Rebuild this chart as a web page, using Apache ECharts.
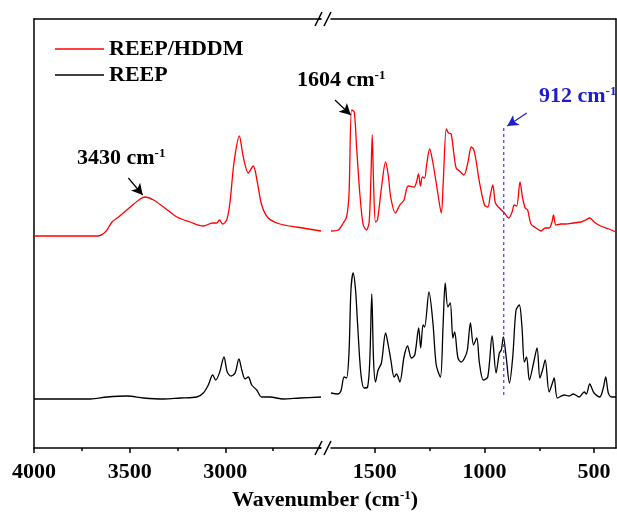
<!DOCTYPE html>
<html>
<head>
<meta charset="utf-8">
<title>FTIR REEP / REEP-HDDM</title>
<script src="https://cdn.jsdelivr.net/npm/echarts@6.0.0/dist/echarts.min.js"></script>
<style>
	html, body { margin: 0; padding: 0; background: #ffffff; }
	#chart { width: 617px; height: 519px; }
</style>
</head>
<body>
<div id="chart"></div>
<script>
// 高波数段 (4000-2500) 与低波数段 (1700-400)，断轴
const highTicks = [4000, 3500, 3000];
const highMinorTicks = [3750, 3250, 2750];
const lowTicks = [1500, 1000, 500];
const lowMinorTicks = [1250, 750];

// REEP/HDDM (红线)
const redHighWn = [4000, 3800, 3670, 3627, 3592, 3558, 3497, 3445, 3419, 3375, 3323, 3253, 3184, 3115, 3066, 3045, 3031, 3014, 2993, 2976, 2955, 2927, 2906, 2880, 2854, 2833, 2810, 2776, 2715, 2628, 2500];
const redHigh = [212, 212, 212, 216, 226, 231, 241, 249, 251, 248, 241, 231, 226, 222, 225, 225, 228, 224, 228, 245, 285, 312, 291, 275, 282, 266, 243, 230, 224, 221, 217];
const redLowWn = [1700, 1667, 1644, 1629, 1618, 1606, 1594, 1583, 1568, 1553, 1538, 1526, 1518, 1512, 1506, 1497, 1488, 1470, 1451, 1439, 1427, 1406, 1386, 1367, 1348, 1321, 1310, 1301, 1292, 1283, 1273, 1264, 1250, 1235, 1215, 1197, 1188, 1174, 1164, 1152, 1140, 1129, 1114, 1094, 1076, 1060, 1050, 1041, 1023, 1000, 985, 973, 962, 950, 932, 909, 889, 874, 864, 853, 838, 826, 814, 803, 788, 765, 742, 723, 705, 692, 685, 674, 651, 629, 595, 560, 538, 520, 500, 470, 432, 400];
const redLow = [217, 218, 225, 231, 253, 338, 336, 300, 253, 223, 218, 226, 270, 313, 266, 226, 228, 260, 286, 273, 250, 235, 243, 248, 262, 261, 266, 274, 262, 271, 270, 283, 299, 285, 258, 235, 266, 319, 315, 314, 295, 280, 277, 273, 285, 301, 299, 291, 266, 243, 241, 253, 263, 245, 240, 235, 230, 236, 243, 242, 266, 250, 240, 238, 224, 220, 217, 220, 220, 226, 233, 223, 224, 224, 225, 226, 228, 230, 226, 222, 219, 216];

// REEP (黑线)
const blackHighWn = [4000, 3845, 3705, 3618, 3514, 3428, 3323, 3236, 3149, 3115, 3089, 3066, 3050, 3031, 3007, 2990, 2970, 2949, 2929, 2914, 2897, 2880, 2862, 2836, 2810, 2767, 2698, 2611, 2500];
const blackHigh = [49, 49, 49, 51, 52, 50, 49, 50, 51, 55, 63, 73, 68, 75, 91, 76, 72, 75, 89, 78, 69, 71, 63, 58, 51, 51, 49, 50, 51];
const blackLowWn = [1700, 1670, 1655, 1640, 1629, 1618, 1609, 1599, 1588, 1579, 1564, 1549, 1533, 1523, 1514, 1506, 1497, 1485, 1470, 1451, 1439, 1427, 1412, 1401, 1386, 1367, 1351, 1333, 1318, 1300, 1291, 1280, 1273, 1253, 1235, 1220, 1201, 1189, 1179, 1167, 1156, 1144, 1136, 1121, 1106, 1091, 1078, 1064, 1050, 1035, 1023, 1005, 985, 965, 947, 932, 923, 914, 901, 886, 871, 856, 841, 829, 818, 808, 795, 776, 760, 747, 735, 723, 705, 690, 682, 667, 636, 614, 595, 568, 545, 535, 520, 500, 474, 458, 447, 435, 420, 400];
const blackLow = [55, 54, 57, 71, 70, 95, 158, 175, 158, 125, 75, 60, 61, 88, 154, 88, 66, 78, 85, 115, 103, 88, 71, 74, 66, 91, 102, 90, 93, 120, 100, 123, 121, 156, 125, 83, 71, 121, 165, 141, 145, 110, 116, 90, 86, 90, 98, 125, 103, 110, 85, 68, 71, 112, 75, 95, 98, 111, 91, 65, 91, 138, 143, 121, 86, 91, 68, 85, 100, 70, 78, 88, 56, 65, 70, 50, 53, 52, 54, 51, 56, 54, 64, 55, 51, 60, 71, 55, 51, 51];

// 标注
const peak3430 = [[3507, 270], [3432, 253]];
const peak1604 = [[1682, 348], [1610, 333]];
const peak912Arrow = [[807, 335], [896, 322]];
const line912 = [[912, 53], [912, 323]];

function zip(xs, ys) {
	return xs.map(function (x, i) { return [x, ys[i]]; });
}

const font = '"Liberation Serif", "Times New Roman", serif';
const axisColor = '#000000';

function bottomAxis(gridIndex, min, max, ticks) {
	return {
		type: 'value', gridIndex: gridIndex, position: 'bottom', min: min, max: max, inverse: true,
		splitLine: { show: false },
		axisLine: { show: true, onZero: false, lineStyle: { color: axisColor, width: 1.5 } },
		axisTick: { show: true, length: 5, customValues: ticks, lineStyle: { color: axisColor, width: 1.5 } },
		axisLabel: {
			show: true, customValues: ticks, margin: 13,
			formatter: function (v) { return String(v); },
			fontFamily: font, fontWeight: 'bold', fontSize: 22, color: '#000'
		}
	};
}

function minorAxis(gridIndex, min, max, ticks) {
	return {
		type: 'value', gridIndex: gridIndex, position: 'bottom', min: min, max: max, inverse: true,
		splitLine: { show: false },
		axisLine: { show: false, onZero: false },
		axisTick: { show: true, length: 3, customValues: ticks, lineStyle: { color: axisColor, width: 1.5 } },
		axisLabel: { show: false }
	};
}

function topAxis(gridIndex, min, max) {
	return {
		type: 'value', gridIndex: gridIndex, position: 'top', min: min, max: max, inverse: true,
		splitLine: { show: false },
		axisLine: { show: true, onZero: false, lineStyle: { color: axisColor, width: 1.5 } },
		axisTick: { show: false },
		axisLabel: { show: false }
	};
}

function sideAxis(gridIndex, position) {
	return {
		type: 'value', gridIndex: gridIndex, position: position, min: 0, max: 429,
		splitLine: { show: false },
		axisLine: { show: true, onZero: false, lineStyle: { color: axisColor, width: 1.5 } },
		axisTick: { show: false },
		axisLabel: { show: false }
	};
}

function arrowLine(pts, color, size) {
	return {
		silent: true,
		symbol: ['none', 'arrow'],
		symbolSize: size,
		label: { show: false },
		lineStyle: { color: color, width: 1.2, type: 'solid' },
		data: [[{ coord: pts[0] }, { coord: pts[1] }]]
	};
}

function label(x, y, main, color) {
	return {
		type: 'text', x: x, y: y,
		style: {
			text: '{a|' + main + '}{b|-1}',
			fill: color,
			verticalAlign: 'middle',
			rich: {
				a: { fontFamily: font, fontWeight: 'bold', fontSize: 22, fill: color, lineHeight: 22 },
				b: { fontFamily: font, fontWeight: 'bold', fontSize: 13, fill: color, verticalAlign: 'top', lineHeight: 22, padding: [0, 0, 9, 0] }
			}
		}
	};
}

function breakMark(y) {
	return [
		{ type: 'line', shape: { x1: 315, y1: y + 7, x2: 322, y2: y - 7 }, style: { stroke: '#000', lineWidth: 1.5 } },
		{ type: 'line', shape: { x1: 324, y1: y + 7, x2: 331, y2: y - 7 }, style: { stroke: '#000', lineWidth: 1.5 } },
		{ type: 'line', shape: { x1: 321, y1: y, x2: 319, y2: y }, style: { stroke: '#000', lineWidth: 1.5 } }
	];
}

const chart = echarts.init(document.getElementById('chart'), null, { renderer: 'canvas' });
const option = {
	animation: false,
	backgroundColor: '#ffffff',
	grid: [
		{ left: 34, top: 19, width: 287, bottom: 71 },
		{ left: 331, top: 19, right: 1, bottom: 71 }
	],
	legend: {
		data: ['REEP/HDDM', 'REEP'],
		orient: 'vertical',
		left: 50,
		top: 33,
		icon: 'rect',
		itemWidth: 49,
		itemHeight: 1.5,
		itemGap: 4,
		itemTextGap: 7,
		textStyle: { fontFamily: font, fontWeight: 'bold', fontSize: 22, color: '#000' }
	},
	xAxis: [
		bottomAxis(0, 2500, 4000, highTicks),
		minorAxis(0, 2500, 4000, highMinorTicks),
		topAxis(0, 2500, 4000),
		bottomAxis(1, 400, 1700, lowTicks),
		minorAxis(1, 400, 1700, lowMinorTicks),
		topAxis(1, 400, 1700)
	],
	yAxis: [
		sideAxis(0, 'left'),
		sideAxis(1, 'right')
	],
	series: [
		{
			name: 'REEP/HDDM', type: 'line', xAxisIndex: 0, yAxisIndex: 0,
			symbol: 'none', smooth: 0.3, lineStyle: { color: '#ff0000', width: 1.3 }, itemStyle: { color: '#ff0000' },
			data: zip(redHighWn, redHigh),
			markLine: arrowLine(peak3430, '#000', [9, 11])
		},
		{
			name: 'REEP/HDDM', type: 'line', xAxisIndex: 3, yAxisIndex: 1,
			symbol: 'none', smooth: 0.3, lineStyle: { color: '#ff0000', width: 1.3 }, itemStyle: { color: '#ff0000' },
			data: zip(redLowWn, redLow),
			markLine: arrowLine(peak1604, '#000', [9, 11])
		},
		{
			name: 'REEP', type: 'line', xAxisIndex: 0, yAxisIndex: 0,
			symbol: 'none', smooth: 0.3, lineStyle: { color: '#000000', width: 1.3 }, itemStyle: { color: '#000000' },
			data: zip(blackHighWn, blackHigh)
		},
		{
			name: 'REEP', type: 'line', xAxisIndex: 3, yAxisIndex: 1,
			symbol: 'none', smooth: 0.3, lineStyle: { color: '#000000', width: 1.3 }, itemStyle: { color: '#000000' },
			data: zip(blackLowWn, blackLow)
		},
		{
			// 912 cm-1 标记：虚线 + 蓝色箭头
			name: '912', type: 'line', xAxisIndex: 3, yAxisIndex: 1,
			symbol: 'none', lineStyle: { color: '#3a3af0', width: 1.2, type: [3, 3] },
			data: line912,
			markLine: arrowLine(peak912Arrow, '#1c1cd0', [9, 11])
		}
	],
	graphic: [
		label(77, 158, '3430 cm', '#000'),
		label(297, 80, '1604 cm', '#000'),
		label(539, 96, '912 cm', '#1c1cd0'),
		{
			type: 'text', x: 325, y: 500,
			style: {
				text: '{a|Wavenumber (cm}{b|-1}{a|)}',
				align: 'center', verticalAlign: 'middle',
				rich: {
					a: { fontFamily: font, fontWeight: 'bold', fontSize: 22, fill: '#000', lineHeight: 22 },
					b: { fontFamily: font, fontWeight: 'bold', fontSize: 13, fill: '#000', verticalAlign: 'top', lineHeight: 22, padding: [0, 0, 9, 0] }
				}
			}
		}
	].concat(breakMark(19), breakMark(448))
};
chart.setOption(option);
</script>
</body>
</html>
